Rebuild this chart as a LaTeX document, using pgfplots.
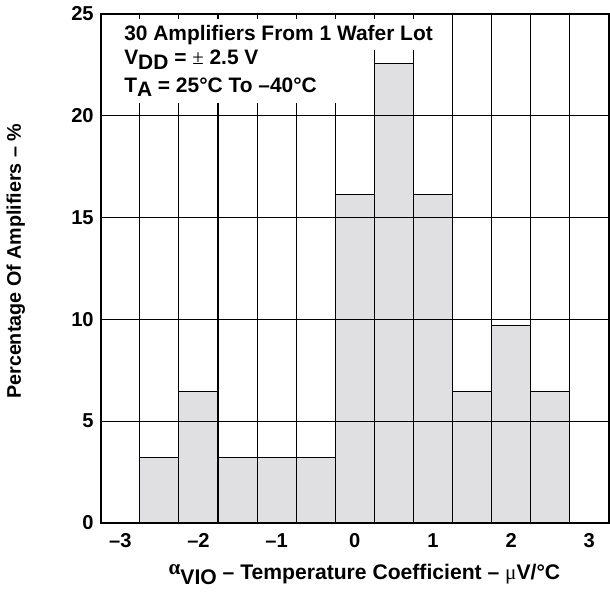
\documentclass[border=0pt]{standalone}
\usepackage{fontspec}
\setmainfont{Liberation Sans}
\newfontfamily\symf{Liberation Serif}
\usepackage{pgfplots}
\pgfplotsset{compat=1.18}
\definecolor{barfill}{HTML}{E0E0E2}
\begin{document}
\begin{tikzpicture}
\begin{axis}[
  set layers=axis on top,
  scale only axis,
  width=252.5pt, height=253pt,
  xmin=-3.25, xmax=3.25, ymin=0, ymax=25,
  xtick={-3,-2,-1,0,1,2,3},
  xticklabels={--3,--2,--1,0,1,2,3},
  minor xtick={-2.75,-2.25,...,2.75},
  ytick={0,5,10,15,20,25},
  yticklabels={0,5,10,15,20,25},
  major tick length=0pt,
  minor tick length=2pt,
  xminorgrids=true, ymajorgrids=true,
  grid style={black, line width=0.5pt},
  minor grid style={black, line width=0.5pt},
  tick style={black, line width=0.5pt},
  axis line style={black, line width=1.2pt},
  ticklabel style={font=\fontsize{10}{12}\selectfont\bfseries},
  xticklabel style={anchor=base, yshift=-12pt},
  xlabel={{\symf\raisebox{0.55ex}{α}}\raisebox{-0.4ex}{VIO} -- Temperature Coefficient -- {\symf\mdseries μ}V/\textdegree C},
  ylabel={Percentage Of Amplifiers -- \%},
  every axis x label/.style={at={(rel axis cs:0.519,-0.112)}, anchor=base,
    font=\fontsize{10.5}{12}\selectfont\bfseries},
  every axis y label/.style={at={(rel axis cs:-0.157,0.514)}, rotate=90, anchor=base,
    font=\fontsize{9.8}{12}\selectfont\bfseries},
]
\addplot[ybar interval, fill=barfill, draw=black, line width=0.5pt] coordinates {
  (-2.75,3.23) (-2.25,6.45) (-1.75,3.23) (-1.25,3.23) (-0.75,3.23)
  (-0.25,16.13) (0.25,22.58) (0.75,16.13) (1.25,6.45) (1.75,9.68)
  (2.25,6.45) (2.75,0)
};
\begin{pgfonlayer}{axis foreground}
\fill[white] (rel axis cs:0.004,0.929) rectangle (rel axis cs:0.67,0.990);
\fill[white] (rel axis cs:0.004,0.824) rectangle (rel axis cs:0.49,0.929);
\node[anchor=base west, inner sep=0pt, font=\fontsize{10.4}{12}\selectfont\bfseries]
  at (rel axis cs:0.0455,0.9466) {30 Amplifiers From 1 Wafer Lot};
\node[anchor=base west, inner sep=0pt, font=\fontsize{10.4}{12}\selectfont\bfseries]
  at (rel axis cs:0.0455,0.900) {V\raisebox{-0.4ex}{DD} = {\symf\mdseries ±} 2.5 V};
\node[anchor=base west, inner sep=0pt, font=\fontsize{10.4}{12}\selectfont\bfseries]
  at (rel axis cs:0.0455,0.846) {T\raisebox{-0.4ex}{A} = 25\textdegree C To --40\textdegree C};
\end{pgfonlayer}
\end{axis}
\end{tikzpicture}
\end{document}
